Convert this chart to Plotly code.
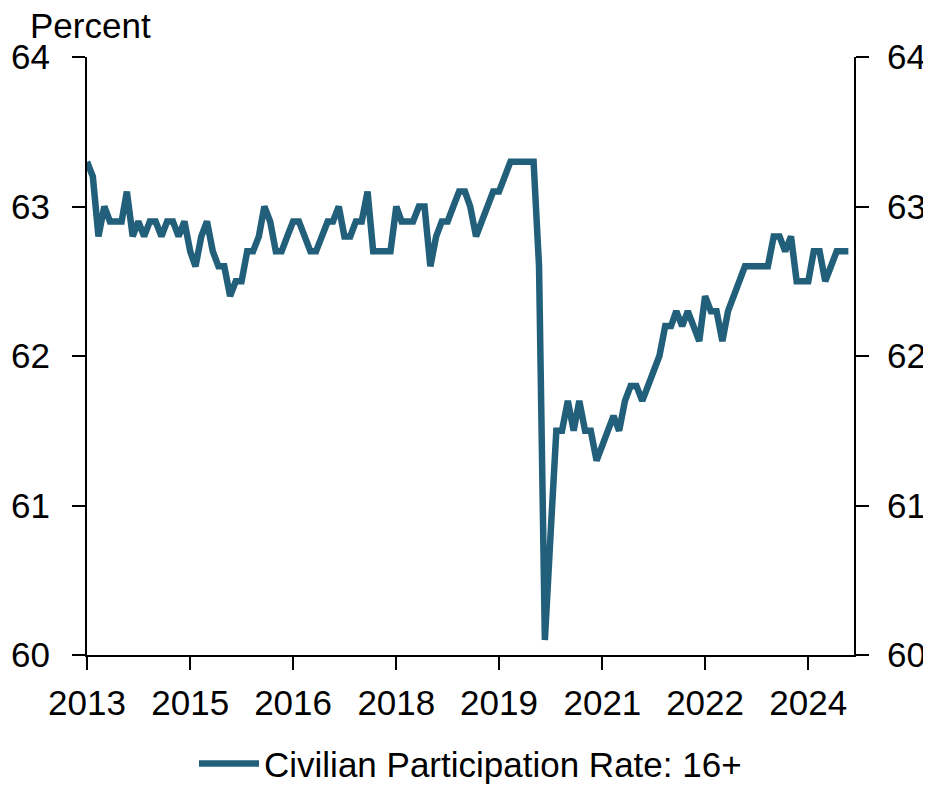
import pandas as pd
import plotly.graph_objects as go

# Civilian labour force participation rate, 16+, monthly from Aug 2013
START_MONTH = "2013-08-01"
rate = [
    63.3, 63.2, 62.8, 63.0, 62.9, 62.9, 62.9, 63.1, 62.8, 62.9,
    62.8, 62.9, 62.9, 62.8, 62.9, 62.9, 62.8, 62.9, 62.7, 62.6,
    62.8, 62.9, 62.7, 62.6, 62.6, 62.4, 62.5, 62.5, 62.7, 62.7,
    62.8, 63.0, 62.9, 62.7, 62.7, 62.8, 62.9, 62.9, 62.8, 62.7,
    62.7, 62.8, 62.9, 62.9, 63.0, 62.8, 62.8, 62.9, 62.9, 63.1,
    62.7, 62.7, 62.7, 62.7, 63.0, 62.9, 62.9, 62.9, 63.0, 63.0,
    62.6, 62.8, 62.9, 62.9, 63.0, 63.1, 63.1, 63.0, 62.8, 62.9,
    63.0, 63.1, 63.1, 63.2, 63.3, 63.3, 63.3, 63.3, 63.3, 62.6,
    60.1, 60.8, 61.5, 61.5, 61.7, 61.5, 61.7, 61.5, 61.5, 61.3,
    61.4, 61.5, 61.6, 61.5, 61.7, 61.8, 61.8, 61.7, 61.8, 61.9,
    62.0, 62.2, 62.2, 62.3, 62.2, 62.3, 62.2, 62.1, 62.4, 62.3,
    62.3, 62.1, 62.3, 62.4, 62.5, 62.6, 62.6, 62.6, 62.6, 62.6,
    62.8, 62.8, 62.7, 62.8, 62.5, 62.5, 62.5, 62.7, 62.7, 62.5,
    62.6, 62.7, 62.7, 62.7,
]
months = pd.date_range(START_MONTH, periods=len(rate), freq="MS")

y_ticks = [60, 61, 62, 63, 64]
x_end = "2024-10-01"

FONT = "Liberation Sans Narrow, Arial Narrow, Liberation Sans, Arial, sans-serif"
FSIZE = 35
LINE = "#215F7B"

fig = go.Figure()
fig.add_trace(go.Scatter(
    x=months, y=rate, mode="lines",
    line=dict(color=LINE, width=6.5),
    name="Civilian Participation Rate: 16+",
))
# same series on the right axis, transparent, so the mirrored axis is drawn
fig.add_trace(go.Scatter(
    x=months, y=rate, mode="lines", yaxis="y2",
    line=dict(color="rgba(0,0,0,0)", width=0),
    showlegend=False, hoverinfo="skip",
))

axis_common = dict(
    range=[60, 64], tickvals=y_ticks, showgrid=False, zeroline=False,
    showline=True, linecolor="black", linewidth=2,
    ticks="outside", ticklen=13, tickwidth=2, tickcolor="black",
    automargin=False,
)

# page body adds an 8px offset, margins account for it
fig.update_layout(
    width=931, height=787,
    margin=dict(l=79, r=85, t=49, b=140, autoexpand=False),
    paper_bgcolor="white", plot_bgcolor="white",
    font=dict(family=FONT, size=FSIZE, color="black"),
    xaxis=dict(
        type="date", range=[START_MONTH, x_end],
        tick0=START_MONTH, dtick="M18", tickformat="%Y",
        showgrid=False, zeroline=False,
        showline=True, linecolor="black", linewidth=2,
        ticks="outside", ticklen=13, tickwidth=2, tickcolor="black",
        ticklabelstandoff=3, automargin=False,
    ),
    yaxis=dict(side="left", ticklabelstandoff=15, **axis_common),
    yaxis2=dict(side="right", overlaying="y", ticklabelstandoff=11, **axis_common),
    showlegend=True,
    legend=dict(
        orientation="h", x=0.5, xanchor="center", y=-0.182, yanchor="middle",
        font=dict(size=FSIZE), itemwidth=60,
    ),
    annotations=[dict(
        text="Percent", xref="paper", yref="paper",
        x=-0.077, y=1.052, xanchor="left", yanchor="middle",
        showarrow=False, font=dict(size=FSIZE),
    )],
)

fig.write_html("out.html")
